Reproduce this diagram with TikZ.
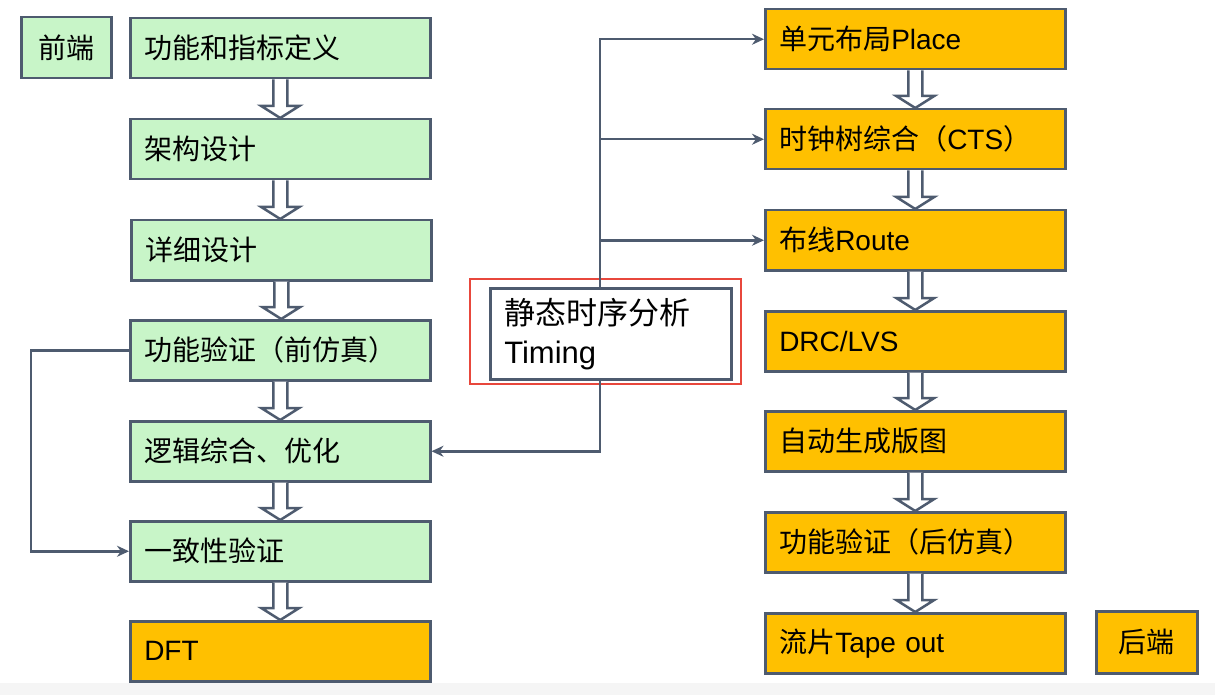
\documentclass[tikz,border=0pt]{standalone}
\usepackage{fontspec}
\setmainfont{Liberation Sans}
\newfontfamily\cjk{Noto Sans CJK SC}
\usetikzlibrary{arrows.meta,calc}
\definecolor{boxc}{HTML}{4E5B6F}
\definecolor{gfill}{HTML}{C8F5C8}
\definecolor{ofill}{HTML}{FFC000}
\definecolor{redc}{HTML}{E8473C}
\tikzset{
  stage/.style={draw=boxc, line width=2.5pt, anchor=north west, text width=272pt,
    inner xsep=14pt, inner ysep=0pt, minimum height=60pt, align=left,
    font=\fontsize{28}{32}\selectfont},
  front/.style={stage, fill=gfill},
  back/.style={stage, fill=ofill},
  tag/.style={draw=boxc, line width=2.5pt, anchor=north west, inner sep=0pt,
    align=center, font=\fontsize{28}{32}\selectfont},
  conn/.style={draw=boxc, line width=2.5pt, -{Stealth[length=12pt,width=11pt]}},
  hollow/.style={draw=boxc, line width=2.5pt, fill=white, line join=miter}
}
\newcommand\holarrow[2]{%
  \path[hollow] let \p1=(#1.south), \p2=(#2.north) in
    (\x1-7pt,\y1) -- (\x1-7pt,\y2+12pt) -- (\x1-19pt,\y2+12pt) -- (\x1,\y2)
    -- (\x1+19pt,\y2+12pt) -- (\x1+7pt,\y2+12pt) -- (\x1+7pt,\y1);}
\begin{document}
\begin{tikzpicture}[x=1pt,y=-1pt]
\useasboundingbox (0,0) rectangle (1215,695);
\fill[white] (0,0) rectangle (1215,695);
\fill[black!4] (0,683) rectangle (1215,695);

% left column
\node[tag, fill=gfill, minimum width=90pt, minimum height=61pt] (fe) at (20,16) {\cjk 前端};
\node[front] (def) at (129,17) {\cjk 功能和指标定义};
\node[front] (arch) at (129,118) {\cjk 架构设计};
\node[front] (detail) at (130,219) {\cjk 详细设计};
\node[front] (verif) at (129,319) {\cjk 功能验证（前仿真）};
\node[front] (logic) at (129,420) {\cjk 逻辑综合、优化};
\node[front] (equiv) at (129,520) {\cjk 一致性验证};
\node[back] (dft) at (129,620) {DFT};

% right column
\node[back] (place) at (764,8) {{\cjk 单元布局}Place};
\node[back] (cts) at (764,108) {{\cjk 时钟树综合（}CTS{\cjk ）}};
\node[back] (route) at (764,209) {{\cjk 布线}Route};
\node[back] (drc) at (764,310) {DRC/LVS};
\node[back] (layout) at (764,410) {\cjk 自动生成版图};
\node[back] (post) at (764,511) {\cjk 功能验证（后仿真）};
\node[back] (tape) at (764,612) {{\cjk 流片}Tape out};
\node[tag, fill=ofill, minimum width=101pt, minimum height=62pt] (be) at (1095,610) {\cjk 后端};

% timing
\node[draw=boxc, line width=2.5pt, anchor=north west, minimum width=241pt, minimum height=91pt,
  text width=213pt, inner xsep=14pt, inner ysep=0pt, align=left,
  font=\fontsize{31}{39}\selectfont] (timing) at (489,287) {{\cjk 静态时序分析}\\Timing};
\draw[redc, line width=1.3pt] (470,279) rectangle (741,384);

% hollow arrows
\holarrow{def}{arch}
\holarrow{arch}{detail}
\holarrow{detail}{verif}
\holarrow{verif}{logic}
\holarrow{logic}{equiv}
\holarrow{equiv}{dft}
\holarrow{place}{cts}
\holarrow{cts}{route}
\holarrow{route}{drc}
\holarrow{drc}{layout}
\holarrow{layout}{post}
\holarrow{post}{tape}

% connectors
\coordinate (bus) at (600,0);
\draw[conn] (timing.north -| bus) |- (place.west);
\draw[conn] (timing.north -| bus) |- (cts.west);
\draw[conn] (timing.north -| bus) |- (route.west);
\draw[conn] (timing.south -| bus) |- (logic.east);
\draw[conn] (verif.west) -- ++(-98,0) |- (equiv.west);
\end{tikzpicture}
\end{document}
